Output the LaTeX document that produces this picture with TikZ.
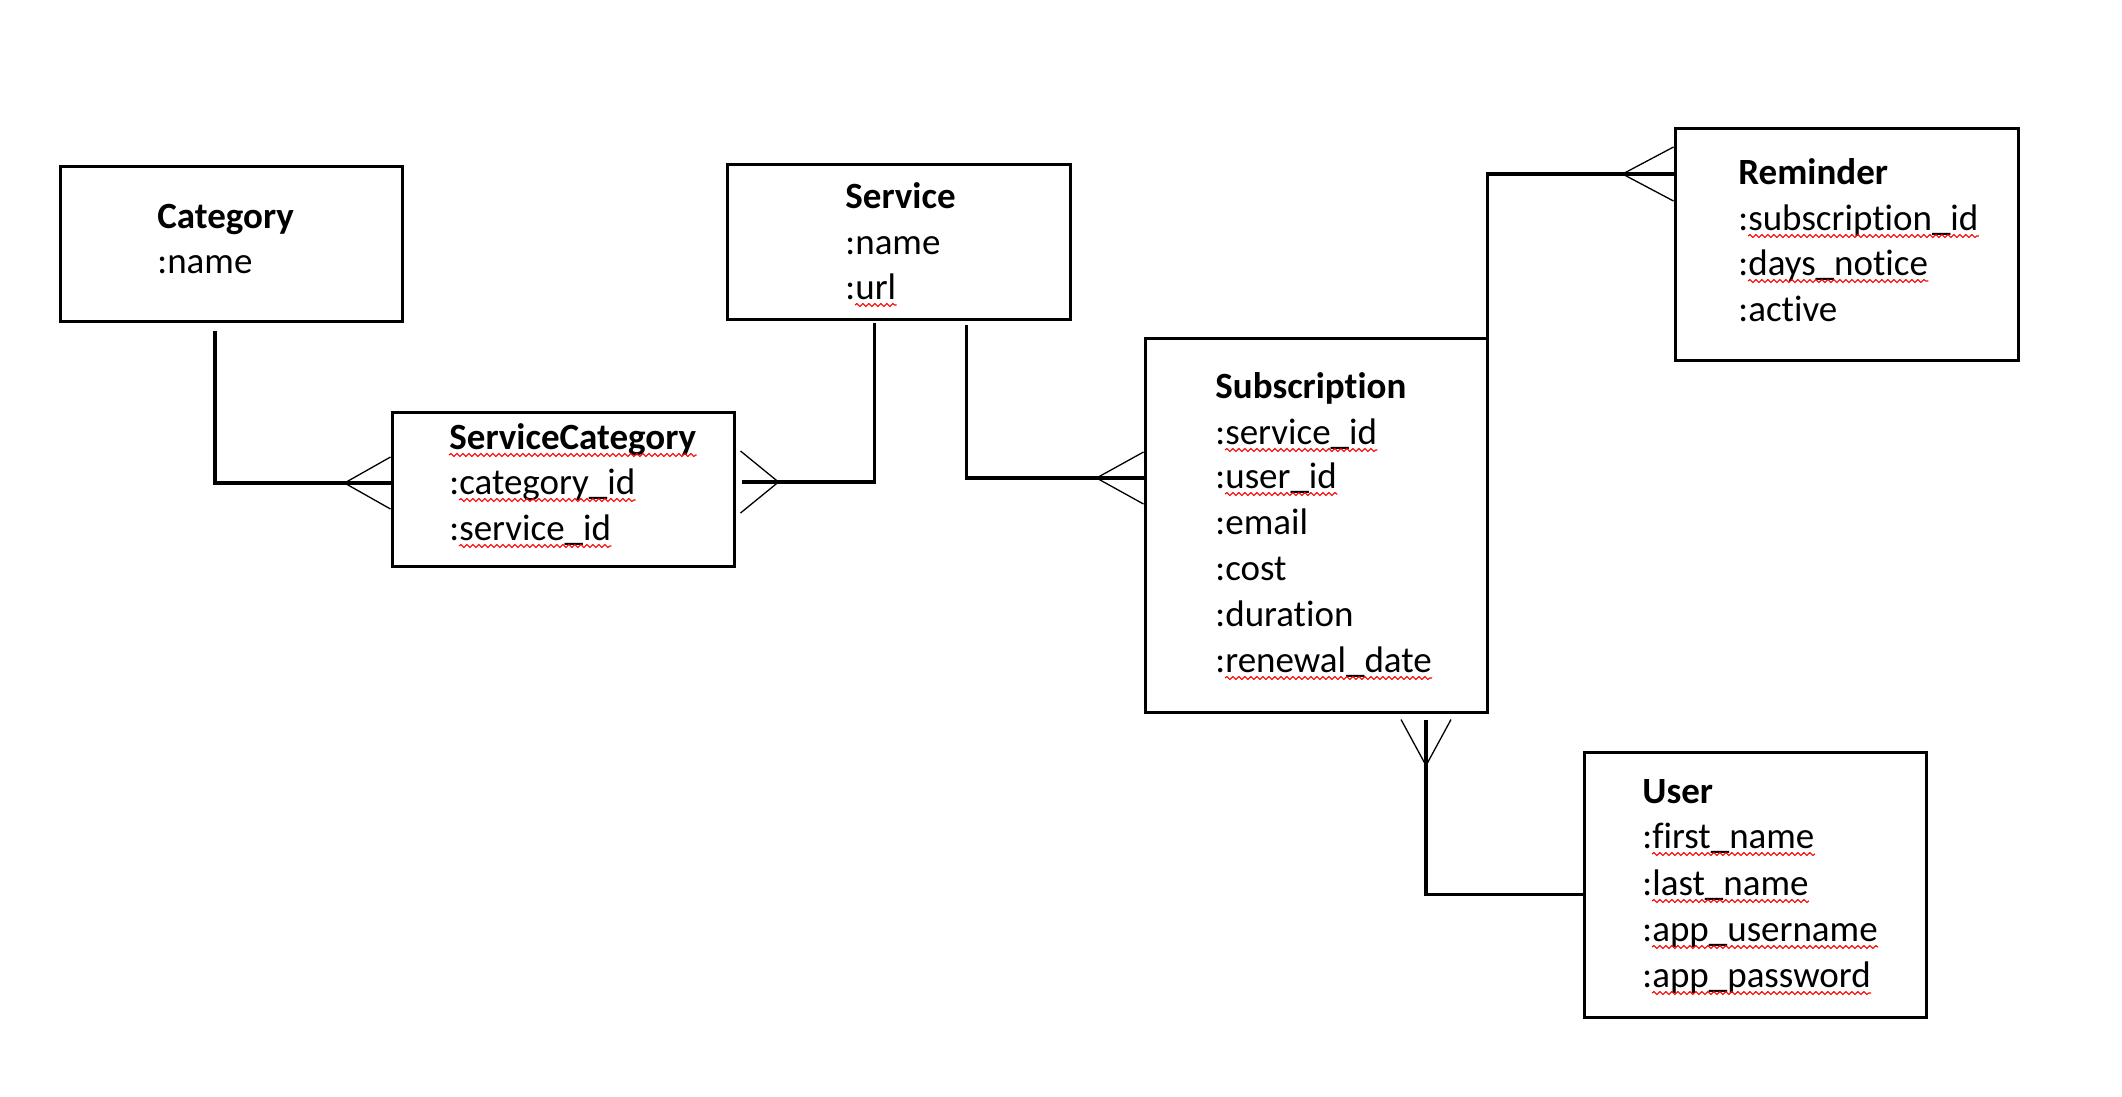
\documentclass[tikz,border=0pt]{standalone}
\usepackage{fontspec}
\setmainfont{Carlito}[Ligatures={NoCommon}]
\usetikzlibrary{fit,calc,decorations.pathmorphing}
\tikzset{
  entity/.style={draw, line width=1.5bp, inner sep=0pt},
  txt/.style={anchor=base west, inner sep=0pt, font=\fontsize{18.5bp}{22bp}\selectfont},
  ttl/.style={txt, font=\fontsize{18.5bp}{22bp}\selectfont\bfseries},
  conn/.style={line width=1.6bp},
  crowline/.style={line width=0.65bp},
  sq/.style={draw=red, line width=0.55bp, decorate, decoration={snake, amplitude=0.7bp, segment length=3bp}},
  pics/crow/.style 2 args={code={\draw[crowline] (#1,-#2) -- (0,0) -- (#1,#2);}}
}
\newcommand\sqline[2][10]{\draw[sq] ($(#2.base west)+(#1,6)$) -- ($(#2.base east)+(0,6)$);}
\begin{document}
\begin{tikzpicture}[x=0.5bp,y=-0.5bp]
\fill[white] (0,0) rectangle (2122,1096);
\useasboundingbox (0,0) rectangle (2122,1096);

% entity boxes
\node[entity, fit={(60,166) (402,321)}] (cat) {};
\node[entity, fit={(727,164) (1070,319)}] (svc) {};
\node[entity, fit={(392,412) (734,566)}] (sc) {};
\node[entity, fit={(1675,128) (2018,360)}] (rem) {};
\node[entity, fit={(1145,338) (1487,712)}] (sub) {};
\node[entity, fit={(1584,752) (1926,1017)}] (usr) {};

% Category
\node[ttl] (cat-1) at (157,228) {Category};
\node[txt] (cat-2) at (157,273) {:name};
% Service
\node[ttl] (svc-1) at (845,208) {Service};
\node[txt] (svc-2) at (845,254) {:name};
\node[txt] (svc-3) at (845,299) {:url};
% ServiceCategory
\node[ttl] (sc-1) at (449,449) {ServiceCategory};
\node[txt] (sc-2) at (449,494) {:category\_id};
\node[txt] (sc-3) at (449,540) {:service\_id};
% Reminder
\node[ttl] (rem-1) at (1738,184) {Reminder};
\node[txt] (rem-2) at (1738,230) {:subscription\_id};
\node[txt] (rem-3) at (1738,275) {:days\_notice};
\node[txt] (rem-4) at (1738,321) {:active};
% Subscription
\node[ttl] (sub-1) at (1215,398) {Subscription};
\node[txt] (sub-2) at (1215,444) {:service\_id};
\node[txt] (sub-3) at (1215,488) {:user\_id};
\node[txt] (sub-4) at (1215,534) {:email};
\node[txt] (sub-5) at (1215,580) {:cost};
\node[txt] (sub-6) at (1215,626) {:duration};
\node[txt] (sub-7) at (1215,672) {:renewal\_date};
% User
\node[ttl] (usr-1) at (1642,803) {User};
\node[txt] (usr-2) at (1642,848) {:first\_name};
\node[txt] (usr-3) at (1642,895) {:last\_name};
\node[txt] (usr-4) at (1642,941) {:app\_username};
\node[txt] (usr-5) at (1642,987) {:app\_password};

% spell-check squiggles
\sqline[0]{sc-1}
\sqline{sc-2}
\sqline{sc-3}
\sqline{svc-3}
\sqline{rem-2}
\sqline{rem-3}
\sqline{sub-2}
\sqline{sub-3}
\sqline{sub-7}
\sqline{usr-2}
\sqline{usr-3}
\sqline{usr-4}
\sqline{usr-5}

% connectors
\draw[conn] ($(cat.south)+(-16,8)$) |- ($(sc.west)+(0,-6)$);
\pic at ($(sc.west)+(-46,-6)$) {crow={46}{26}};

\draw[conn] ($(svc.south)+(-24,2)$) |- ($(sc.east)+(6,-7)$);
\pic[rotate=180] at ($(sc.east)+(43,-7)$) {crow={38}{31}};

\draw[conn] ($(svc.south)+(68,4)$) |- ($(sub.west)+(0,-47)$);
\pic at ($(sub.west)+(-47,-47)$) {crow={47}{26}};

\draw[conn] ($(sub.north east)+(-1,0)$) |- ($(rem.west)+(0,-70)$);
\pic at ($(rem.west)+(-51,-70)$) {crow={51}{27}};

\draw[conn] ($(sub.south)+(110,6)$) |- ($(usr.west)+(0,10)$);
\pic[rotate=90] at ($(sub.south)+(110,52)$) {crow={46}{25}};
\end{tikzpicture}
\end{document}
